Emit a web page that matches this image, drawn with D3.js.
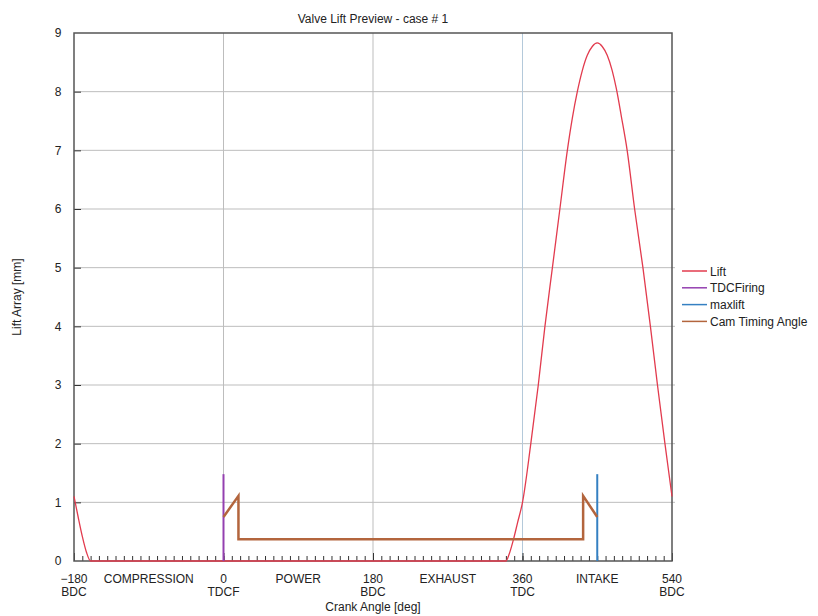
<!DOCTYPE html>
<html>
<head>
<meta charset="utf-8">
<script src="https://cdn.jsdelivr.net/npm/d3@7"></script>
<style>
  body { margin: 0; background: #fff; }
  text { font-family: "Liberation Sans", Arial, sans-serif; fill: #222; }
</style>
</head>
<body>
<svg id="chart" width="818" height="616"></svg>
<script>
// lift curve (crank deg, mm)
var liftDeg = [-180, -175, -170, -165, -160, 340, 344, 349, 354, 360, 370, 379, 387, 396, 405, 414, 420, 426, 432, 438, 444, 450, 456, 462, 468, 473, 479, 486, 495, 505, 514, 522.5, 531.5, 540];
var liftMm  = [1.10, 0.75, 0.42, 0.15, 0, 0, 0.12, 0.36, 0.65, 1.0, 2.0, 3.0, 4.0, 5.0, 6.0, 7.0, 7.55, 8.0, 8.36, 8.62, 8.77, 8.83, 8.77, 8.62, 8.36, 8.05, 7.58, 7.0, 6.0, 5.0, 4.0, 3.0, 2.0, 1.10];

var tdcDeg = [0, 0];
var tdcMm = [0, 1.48];
var maxDeg = [450, 450];
var maxMm = [0, 1.48];
var camDeg = [0, 18, 18, 433, 433, 450];
var camMm = [0.75, 1.11, 0.37, 0.37, 1.11, 0.75];

var majorTicks = [-180, 0, 180, 360, 540];
var majorLabels = [['\u2212180', 'BDC'], ['0', 'TDCF'], ['180', 'BDC'], ['360', 'TDC'], ['540', 'BDC']];
var strokeAt = [-90, 90, 270, 450];
var strokeNames = ['COMPRESSION', 'POWER', 'EXHAUST', 'INTAKE'];
var yTicks = [0, 1, 2, 3, 4, 5, 6, 7, 8, 9];

var seriesNames = ['Lift', 'TDCFiring', 'maxlift', 'Cam Timing Angle'];
var seriesColors = ['#e23b4e', '#9440b0', '#3580c2', '#b3653d'];

var pLeft = 74, pRight = 672, pTop = 33, pBottom = 561;

var svg = d3.select('#chart');
var x = d3.scaleLinear().domain([-180, 540]).range([pLeft, pRight]);
var y = d3.scaleLinear().domain([0, 9]).range([pBottom, pTop]);

// grid
svg.append('g').selectAll('line').data(yTicks.slice(1, 9)).enter().append('line')
  .attr('x1', pLeft).attr('x2', pRight + 3)
  .attr('y1', function(d){ return y(d); }).attr('y2', function(d){ return y(d); })
  .attr('stroke', '#bdbdbd').attr('stroke-width', 1);
svg.append('g').selectAll('line').data([0, 180, 360]).enter().append('line')
  .attr('x1', function(d){ return x(d); }).attr('x2', function(d){ return x(d); })
  .attr('y1', pTop).attr('y2', pBottom)
  .attr('stroke', function(d){ return d == 360 ? '#b4c9da' : '#bdbdbd'; }).attr('stroke-width', 1);

// minor and major x ticks (pointing inward)
var minor = svg.append('g').attr('transform', 'translate(0,' + pBottom + ')')
  .call(d3.axisBottom(x).tickValues(d3.range(-180, 541, 10)).tickSize(-5).tickFormat(''));
minor.select('.domain').remove();
minor.selectAll('line').attr('stroke', '#333');
var major = svg.append('g').attr('transform', 'translate(0,' + pBottom + ')')
  .call(d3.axisBottom(x).tickValues(majorTicks).tickSize(-8).tickFormat(''));
major.select('.domain').remove();
major.selectAll('line').attr('stroke', '#333');

// y ticks
var ya = svg.append('g').attr('transform', 'translate(' + pLeft + ',0)')
  .call(d3.axisLeft(y).tickValues(yTicks).tickSize(-7).tickPadding(11).tickFormat(d3.format('d')));
ya.select('.domain').remove();
ya.selectAll('line').attr('stroke', '#333');
ya.selectAll('text').attr('text-anchor', 'middle').attr('x', -16).attr('font-size', 12)
  .style('font-family', '"Liberation Sans", Arial, sans-serif').attr('fill', '#222');
ya.selectAll('.tick').filter(function(d){ return d == 0 || d == 9; }).select('line').remove();

// frame
svg.append('rect').attr('x', pLeft).attr('y', pTop).attr('width', pRight - pLeft).attr('height', pBottom - pTop)
  .attr('fill', 'none').attr('stroke', '#555').attr('stroke-width', 1.5);

// series
var line = d3.line().x(function(d){ return x(d[0]); }).y(function(d){ return y(d[1]); });
var liftLine = d3.line().x(function(d){ return x(d[0]); }).y(function(d){ return y(d[1]); }).curve(d3.curveMonotoneX);

svg.append('path').datum(d3.zip(liftDeg, liftMm)).attr('d', liftLine)
  .attr('fill', 'none').attr('stroke', seriesColors[0]).attr('stroke-width', 1.3);
svg.append('path').datum(d3.zip(tdcDeg, tdcMm)).attr('d', line)
  .attr('fill', 'none').attr('stroke', seriesColors[1]).attr('stroke-width', 2);
svg.append('path').datum(d3.zip(maxDeg, maxMm)).attr('d', line)
  .attr('fill', 'none').attr('stroke', seriesColors[2]).attr('stroke-width', 2);
svg.append('path').datum(d3.zip(camDeg, camMm)).attr('d', line)
  .attr('fill', 'none').attr('stroke', seriesColors[3]).attr('stroke-width', 2.5);

// x labels
var lab = svg.append('g').selectAll('text').data(majorTicks).enter().append('text')
  .attr('x', function(d){ return x(d); }).attr('y', 583)
  .attr('text-anchor', 'middle').attr('font-size', 12);
lab.append('tspan').attr('x', function(d){ return x(d); }).text(function(d, i){ return majorLabels[i][0]; });
lab.append('tspan').attr('x', function(d){ return x(d); }).attr('dy', 12.5).text(function(d, i){ return majorLabels[i][1]; });

svg.append('g').selectAll('text').data(strokeAt).enter().append('text')
  .attr('x', function(d){ return x(d); }).attr('y', 583)
  .attr('text-anchor', 'middle').attr('font-size', 12)
  .text(function(d, i){ return strokeNames[i]; });

svg.append('text').attr('x', x(180)).attr('y', 611).attr('text-anchor', 'middle').attr('font-size', 12)
  .text('Crank Angle [deg]');
svg.append('text').attr('x', x(180)).attr('y', 23).attr('text-anchor', 'middle').attr('font-size', 12)
  .text('Valve Lift Preview - case # 1');
svg.append('text').attr('transform', 'translate(21,' + y(4.5) + ') rotate(-90)')
  .attr('text-anchor', 'middle').attr('font-size', 12).text('Lift Array [mm]');

// legend
var leg = svg.append('g').selectAll('g').data(seriesNames).enter().append('g')
  .attr('transform', function(d, i){ return 'translate(682,' + (271 + i * 16.8) + ')'; });
leg.append('line').attr('x1', 0).attr('x2', 25).attr('stroke', function(d, i){ return seriesColors[i]; })
  .attr('stroke-width', 1.5);
leg.append('text').attr('x', 28).attr('y', 4.5).attr('font-size', 12).text(function(d){ return d; });
</script>
</body>
</html>
